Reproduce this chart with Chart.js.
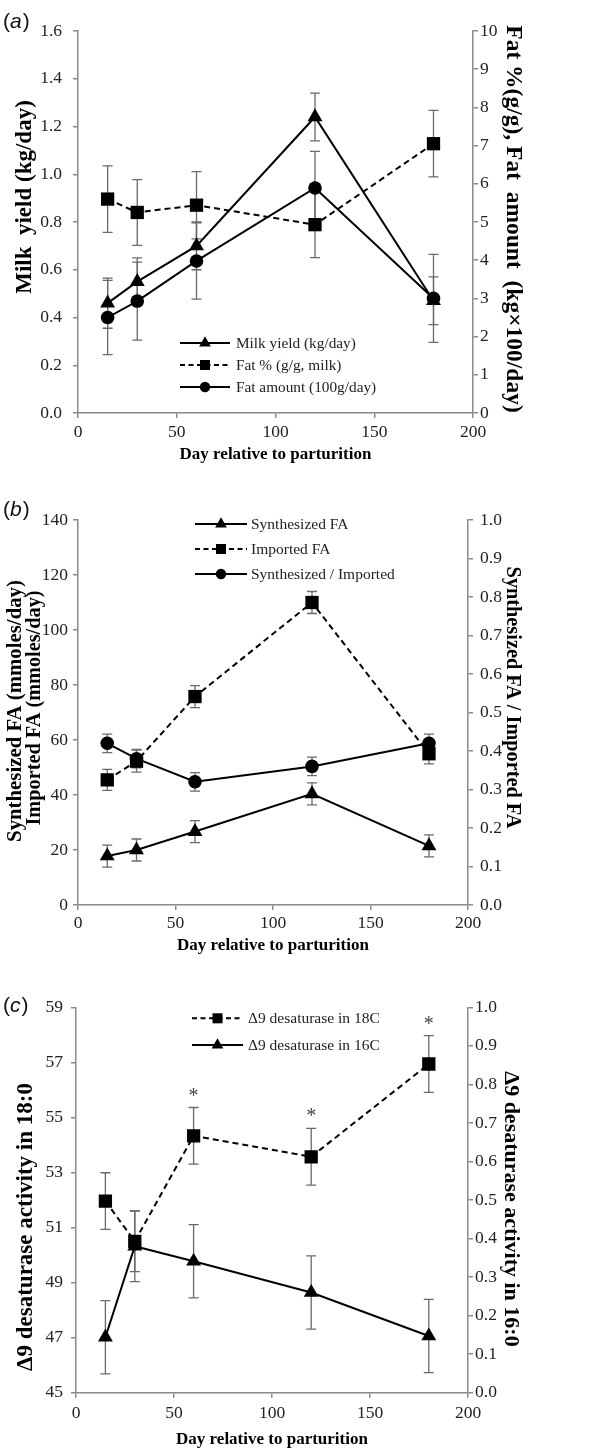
<!DOCTYPE html>
<html><head><meta charset="utf-8">
<script src="https://cdn.jsdelivr.net/npm/chart.js@4.4.1/dist/chart.umd.min.js"></script>
<style>
html,body{margin:0;padding:0;background:#fff;}
body{width:606px;height:1449px;position:relative;overflow:hidden;}
.p{position:absolute;left:0;width:606px;}
</style></head><body>
<div class="p" style="top:0;height:472px"><canvas id="ca"></canvas></div>
<div class="p" style="top:472px;height:490px"><canvas id="cb"></canvas></div>
<div class="p" style="top:962px;height:487px"><canvas id="cc"></canvas></div>
<script>
// ---------- data ----------
const days = [15, 30, 60, 120, 180];
const xTickLabels = ['0', '50', '100', '150', '200'];

// panel (a)
const milkYield    = [0.46, 0.55, 0.70, 1.24, 0.47];
const milkYieldErr = [0.105, 0.10, 0.10, 0.10, 0.10];
const fatPct       = [5.60, 5.25, 5.44, 4.93, 7.05];
const fatPctErr    = [0.87, 0.86, 0.88, 0.86, 0.87];
const fatAmount    = [2.50, 2.93, 3.98, 5.89, 3.00];
const fatAmountErr = [0.97, 1.02, 1.00, 0.96, 1.15];
const aLeftTicks  = ['0.0', '0.2', '0.4', '0.6', '0.8', '1.0', '1.2', '1.4', '1.6'];
const aRightTicks = ['0', '1', '2', '3', '4', '5', '6', '7', '8', '9', '10'];

// panel (b)
const synthFA        = [17.8, 20.0, 26.7, 40.4, 21.5];
const synthFAErr     = [4.0, 4.0, 4.0, 4.0, 4.0];
const importedFA     = [45.5, 52.3, 75.8, 110.0, 55.0];
const importedFAErr  = [3.8, 4.0, 4.0, 4.0, 3.7];
const synthImpRatio  = [0.42, 0.38, 0.32, 0.36, 0.42];
const synthImpRatioErr = [0.024, 0.024, 0.024, 0.024, 0.024];
const bLeftTicks  = ['0', '20', '40', '60', '80', '100', '120', '140'];
const bRightTicks = ['0.0', '0.1', '0.2', '0.3', '0.4', '0.5', '0.6', '0.7', '0.8', '0.9', '1.0'];

// panel (c)
const desat18    = [51.96, 50.50, 54.33, 53.57, 56.94];
const desat18Err = [1.03, 1.10, 1.03, 1.03, 1.03];
const desat18Sig = ['', '', '*', '*', '*'];
const desat16    = [0.144, 0.380, 0.341, 0.260, 0.147];
const desat16Err = [0.095, 0.092, 0.095, 0.095, 0.095];
const cLeftTicks  = ['45', '47', '49', '51', '53', '55', '57', '59'];
const cRightTicks = ['0.0', '0.1', '0.2', '0.3', '0.4', '0.5', '0.6', '0.7', '0.8', '0.9', '1.0'];

// ---------- styling helpers ----------
const SERIF = '"Liberation Serif", "Times New Roman", serif';
const AXIS = '#8a8a8a';
const TICK_SIZE = 17.5;
Chart.defaults.font.family = SERIF;

function pts(arr) { return days.map((d, i) => ({x: d, y: arr[i]})); }

function ds(label, arr, err, axis, style, radius, dashed) {
  return {
    label, data: pts(arr), errors: err, yAxisID: axis,
    borderColor: '#000', backgroundColor: '#000', borderWidth: 2,
    borderDash: dashed ? [6, 4] : [], tension: 0, fill: false,
    pointStyle: style, pointRadius: radius, pointHoverRadius: radius,
    pointBackgroundColor: '#000', pointBorderColor: '#000', pointBorderWidth: 0
  };
}

function yAxis(pos, labels, tickPad, width) {
  return {
    type: 'linear', position: pos,
    min: parseFloat(labels[0]), max: parseFloat(labels[labels.length - 1]),
    afterBuildTicks: s => { s.ticks = labels.map(l => ({value: parseFloat(l)})); },
    afterFit: s => { s.width = width; },
    border: {display: true, color: AXIS, width: 1.5},
    grid: {drawOnChartArea: false, drawTicks: true, tickLength: 5, color: AXIS, lineWidth: 1.5},
    ticks: {autoSkip: false, padding: tickPad, color: '#222',
            font: {family: SERIF, size: TICK_SIZE, lineHeight: 1.2},
            callback: (v, i) => labels[i]},
    title: {display: false}
  };
}

function xAxis(height, tickPad, titlePad) {
  return {
    type: 'linear', position: 'bottom',
    min: 0, max: 200,
    afterBuildTicks: s => { s.ticks = xTickLabels.map(l => ({value: parseFloat(l)})); },
    afterFit: s => { s.height = height; },
    border: {display: true, color: AXIS, width: 1.5},
    grid: {drawOnChartArea: false, drawTicks: true, tickLength: 5, color: AXIS, lineWidth: 1.5},
    ticks: {autoSkip: false, maxRotation: 0, padding: tickPad, color: '#222',
            font: {family: SERIF, size: TICK_SIZE, lineHeight: 1.2},
            callback: (v, i) => xTickLabels[i]},
    title: {display: true, text: 'Day relative to parturition', color: '#000',
            font: {family: SERIF, size: 17, weight: 'bold', lineHeight: 1},
            padding: {top: 0, bottom: titlePad}}
  };
}

function drawMarker(ctx, style, x, y, r) {
  ctx.beginPath();
  if (style === 'rect') {
    const s = r * Math.SQRT1_2;
    ctx.rect(x - s, y - s, 2 * s, 2 * s);
  } else if (style === 'circle') {
    ctx.arc(x, y, r, 0, Math.PI * 2);
  } else {
    let a = 0;
    ctx.moveTo(x + Math.sin(a) * r, y - Math.cos(a) * r);
    a += 2 * Math.PI / 3;
    ctx.lineTo(x + Math.sin(a) * r, y - Math.cos(a) * r);
    a += 2 * Math.PI / 3;
    ctx.lineTo(x + Math.sin(a) * r, y - Math.cos(a) * r);
    ctx.closePath();
  }
  ctx.fill();
}

// ---------- plugins ----------
const errorBars = {
  id: 'errorBars',
  beforeDatasetsDraw(chart) {
    const ctx = chart.ctx, xs = chart.scales.x;
    ctx.save();
    ctx.strokeStyle = '#6a6a6a'; ctx.lineWidth = 1.3; ctx.setLineDash([]);
    chart.data.datasets.forEach(d => {
      const ys = chart.scales[d.yAxisID];
      d.data.forEach((p, i) => {
        const x = xs.getPixelForValue(p.x);
        const y1 = ys.getPixelForValue(p.y + d.errors[i]);
        const y2 = ys.getPixelForValue(p.y - d.errors[i]);
        ctx.beginPath();
        ctx.moveTo(x, y1); ctx.lineTo(x, y2);
        ctx.moveTo(x - 5, y1); ctx.lineTo(x + 5, y1);
        ctx.moveTo(x - 5, y2); ctx.lineTo(x + 5, y2);
        ctx.stroke();
      });
    });
    ctx.restore();
  }
};

const insideLegend = {
  id: 'insideLegend',
  afterDatasetsDraw(chart, args, o) {
    if (!o || !o.order) return;
    const ctx = chart.ctx;
    ctx.save();
    o.order.forEach((di, k) => {
      const d = chart.data.datasets[di];
      const y = o.rows[k];
      ctx.strokeStyle = '#000'; ctx.lineWidth = 2;
      ctx.setLineDash(d.borderDash && d.borderDash.length ? [5, 3.5] : []);
      ctx.beginPath(); ctx.moveTo(o.x0, y); ctx.lineTo(o.x0 + o.len, y); ctx.stroke();
      ctx.setLineDash([]);
      ctx.fillStyle = '#000';
      drawMarker(ctx, d.pointStyle, o.x0 + o.len / 2, y, o.radius[d.pointStyle]);
      ctx.font = o.fontSize + 'px ' + SERIF;
      ctx.textBaseline = 'middle'; ctx.textAlign = 'left';
      ctx.fillStyle = '#222';
      ctx.fillText(d.label, o.textX, y + 1);
    });
    ctx.restore();
  }
};

// vertical axis titles, drawn beside the scales
const axisTitles = {
  id: 'axisTitles',
  afterDraw(chart, args, o) {
    if (!o || !o.items) return;
    const ctx = chart.ctx;
    o.items.forEach(t => {
      ctx.save();
      ctx.translate(t.x, t.y);
      ctx.rotate(t.rot * Math.PI / 180);
      ctx.font = 'bold ' + t.size + 'px ' + SERIF;
      ctx.fillStyle = '#000'; ctx.textAlign = 'center'; ctx.textBaseline = 'middle';
      ctx.fillText(t.text, 0, 0);
      ctx.restore();
    });
  }
};

const panelLabel = {
  id: 'panelLabel',
  afterDraw(chart, args, o) {
    if (!o || !o.letter) return;
    const ctx = chart.ctx;
    ctx.save();
    ctx.fillStyle = '#111'; ctx.textBaseline = 'middle'; ctx.textAlign = 'left';
    let x = o.x;
    const n = '21px "Liberation Sans", Arial, sans-serif';
    const it = 'italic 21px "Liberation Sans", Arial, sans-serif';
    ctx.font = n; ctx.fillText('(', x, o.y); x += ctx.measureText('(').width;
    ctx.font = it; ctx.fillText(o.letter, x, o.y); x += ctx.measureText(o.letter).width + 1;
    ctx.font = n; ctx.fillText(')', x, o.y);
    ctx.restore();
  }
};

const sigMarks = {
  id: 'sigMarks',
  afterDatasetsDraw(chart, args, o) {
    if (!o || !o.marks) return;
    const ctx = chart.ctx, xs = chart.scales.x, ys = chart.scales[o.axis];
    ctx.save();
    ctx.fillStyle = '#444'; ctx.font = '20px ' + SERIF;
    ctx.textAlign = 'center'; ctx.textBaseline = 'alphabetic';
    o.marks.forEach((m, i) => {
      if (!m) return;
      const x = xs.getPixelForValue(days[i]);
      const y = ys.getPixelForValue(o.values[i] + o.errors[i]);
      ctx.fillText(m, x, y - 6);
    });
    ctx.restore();
  }
};

function baseOptions(top) {
  return {
    responsive: true, maintainAspectRatio: false, animation: false,
    devicePixelRatio: 1, events: [],
    layout: {padding: {top: top, left: 0, right: 0, bottom: 0}},
    plugins: {legend: {display: false}, tooltip: {enabled: false}}
  };
}

const legendRadius = {rect: 7.1, circle: 5.2, triangle: 6.8};
const XLH = TICK_SIZE * 1.2 / 2;

// ---------- panel (a) ----------
const optA = baseOptions(31);
optA.scales = {
  x: xAxis(59, 432 - 413 - 5 - XLH, 8.5),
  y: yAxis('left', aLeftTicks, 11, 78),
  y1: yAxis('right', aRightTicks, 2, 133)
};
optA.plugins.insideLegend = {order: [0, 1, 2], rows: [343, 365, 387], x0: 180, len: 50, textX: 236, fontSize: 15.3, radius: legendRadius};
optA.plugins.panelLabel = {letter: 'a', x: 3, y: 22};
optA.plugins.axisTitles = {items: [
  {text: 'Milk  yield (kg/day)', x: 25, y: 197, rot: -90, size: 23},
  {text: 'Fat %(g/g), Fat  amount  (kg\u00d7100/day)', x: 513, y: 219, rot: 90, size: 23.5}
]};
new Chart(document.getElementById('ca'), {
  type: 'line',
  data: {datasets: [
    ds('Milk yield (kg/day)', milkYield, milkYieldErr, 'y', 'triangle', 8.6, false),
    ds('Fat % (g/g, milk)', fatPct, fatPctErr, 'y1', 'rect', 9.4, true),
    ds('Fat amount (100g/day)', fatAmount, fatAmountErr, 'y1', 'circle', 6.8, false)
  ]},
  options: optA,
  plugins: [errorBars, insideLegend, panelLabel, axisTitles]
});

// ---------- panel (b) ----------
const optB = baseOptions(48);
optB.scales = {
  x: xAxis(57, 451 - 433 - 5 - XLH, 7.5),
  y: yAxis('left', bLeftTicks, 5, 78),
  y1: yAxis('right', bRightTicks, 7, 138)
};
optB.plugins.insideLegend = {order: [0, 1, 2], rows: [52, 77, 102], x0: 195, len: 52, textX: 251, fontSize: 15.5, radius: legendRadius};
optB.plugins.panelLabel = {letter: 'b', x: 3, y: 38};
optB.plugins.axisTitles = {items: [
  {text: 'Synthesized FA (mmoles/day)', x: 16, y: 239, rot: -90, size: 20.8},
  {text: 'Imported FA (mmoles/day)', x: 35, y: 236, rot: -90, size: 20.3},
  {text: 'Synthesized FA / Imported FA', x: 512, y: 225.5, rot: 90, size: 20.3}
]};
new Chart(document.getElementById('cb'), {
  type: 'line',
  data: {datasets: [
    ds('Synthesized FA', synthFA, synthFAErr, 'y', 'triangle', 8.6, false),
    ds('Imported FA', importedFA, importedFAErr, 'y', 'rect', 9.4, true),
    ds('Synthesized / Imported', synthImpRatio, synthImpRatioErr, 'y1', 'circle', 6.8, false)
  ]},
  options: optB,
  plugins: [errorBars, insideLegend, panelLabel, axisTitles]
});

// ---------- panel (c) ----------
const optC = baseOptions(45.3);
optC.scales = {
  x: xAxis(56.3, 451.3 - 430.7 - 5 - XLH, 0.5),
  y: yAxis('left', cLeftTicks, 8, 76),
  y1: yAxis('right', cRightTicks, 2, 138)
};
optC.plugins.insideLegend = {order: [0, 1], rows: [56.3, 83], x0: 192, len: 51, textX: 248, fontSize: 15.5, radius: legendRadius};
optC.plugins.panelLabel = {letter: 'c', x: 3, y: 44};
optC.plugins.sigMarks = {marks: desat18Sig, values: desat18, errors: desat18Err, axis: 'y'};
optC.plugins.axisTitles = {items: [
  {text: '\u03949 desaturase activity in 18:0', x: 26, y: 265, rot: -90, size: 23},
  {text: '\u03949 desaturase activity in 16:0', x: 511, y: 247, rot: 90, size: 22}
]};
new Chart(document.getElementById('cc'), {
  type: 'line',
  data: {datasets: [
    ds('\u03949 desaturase in 18C', desat18, desat18Err, 'y', 'rect', 9.4, true),
    ds('\u03949 desaturase in 16C', desat16, desat16Err, 'y1', 'triangle', 8.6, false)
  ]},
  options: optC,
  plugins: [errorBars, insideLegend, panelLabel, sigMarks, axisTitles]
});
</script>
</body></html>
